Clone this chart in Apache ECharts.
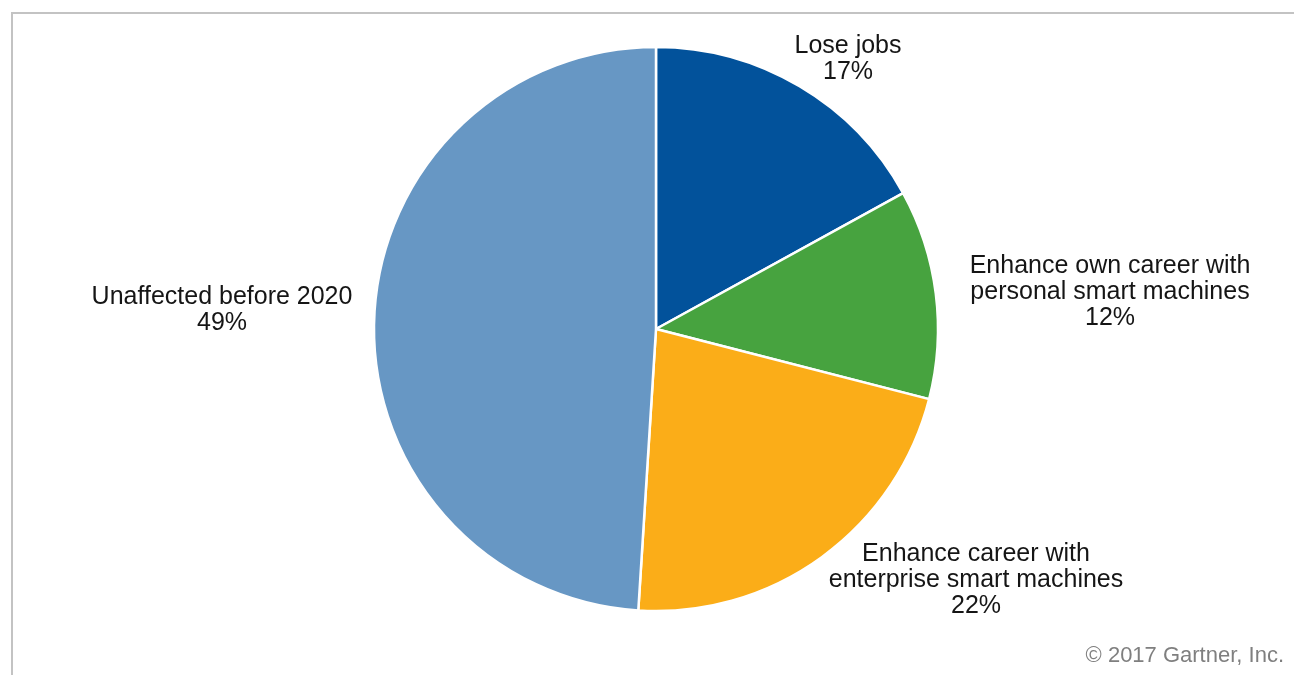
<!DOCTYPE html>
<html>
<head>
<meta charset="utf-8">
<script src="https://cdn.jsdelivr.net/npm/echarts@6/dist/echarts.min.js"></script>
<style>
html,body{margin:0;padding:0;background:#fff;}
#chart{width:1294px;height:675px;}
</style>
</head>
<body>
<div id="chart"></div>
<script>
const categories = [
  "Lose jobs",
  "Enhance own career with\npersonal smart machines",
  "Enhance career with\nenterprise smart machines",
  "Unaffected before 2020"
];
const values = [17, 12, 22, 49];
const colors = ["#02529B", "#47A33F", "#FBAD18", "#6797C4"];
// label anchor positions (centres of label blocks)
const labelPos = [[848, 59], [1110, 292], [976, 580], [222, 310]];

const chart = echarts.init(document.getElementById('chart'), null, {renderer: 'canvas'});
chart.setOption({
  animation: false,
  backgroundColor: '#fff',
  title: {
    text: '\u00A9 2017 Gartner, Inc.',
    right: 5,
    bottom: 3,
    textStyle: {fontFamily: 'Liberation Sans, Arial, sans-serif', fontSize: 22, fontWeight: 'normal', color: '#7f7f7f'}
  },
  graphic: [{
    type: 'rect',
    shape: {x: 12, y: 13, width: 1320, height: 700},
    style: {fill: 'none', stroke: '#c3c3c3', lineWidth: 2},
    silent: true
  }],
  series: [{
    type: 'pie',
    center: [656, 329],
    radius: [0, 282],
    startAngle: 90,
    clockwise: true,
    data: categories.map((c, i) => ({name: c, value: values[i], itemStyle: {color: colors[i]}})),
    itemStyle: {borderColor: '#fff', borderWidth: 2.5},
    label: {
      show: true,
      position: 'outside',
      formatter: '{b}\n{c}%',
      fontFamily: 'Liberation Sans, Arial, sans-serif',
      fontSize: 25,
      lineHeight: 26,
      color: '#151515',
      align: 'center'
    },
    labelLine: {show: false},
    labelLayout: function (params) {
      const p = labelPos[params.dataIndex];
      return {x: p[0], y: p[1], align: 'center', verticalAlign: 'middle'};
    },
    emphasis: {disabled: true}
  }]
});
</script>
</body>
</html>
